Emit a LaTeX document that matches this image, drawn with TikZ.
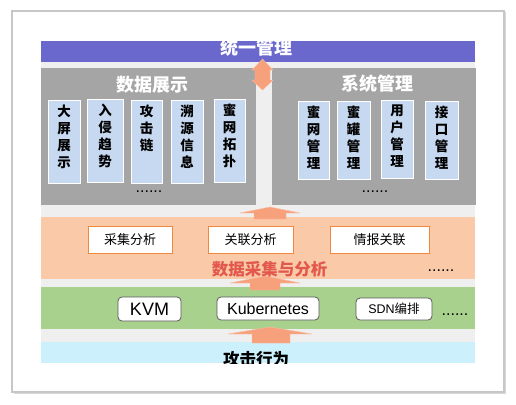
\documentclass[tikz,border=0pt]{standalone}
\usepackage{fontspec}
\setmainfont{Noto Sans CJK SC}
\newfontfamily\lat{Liberation Sans}
\usetikzlibrary{shadows}
\definecolor{purp}{RGB}{106,104,204}
\definecolor{grayb}{RGB}{165,165,165}
\definecolor{lblue}{RGB}{198,217,240}
\definecolor{peach}{RGB}{250,202,168}
\definecolor{grn}{RGB}{169,209,142}
\definecolor{skyb}{RGB}{205,241,252}
\definecolor{bgg}{RGB}{239,239,239}
\definecolor{redt}{RGB}{226,88,76}
\definecolor{obord}{RGB}{240,136,62}
\definecolor{arr}{RGB}{247,160,124}
\tikzset{
  layer/.style={draw=none},
  vbox/.style={fill=lblue, draw=white, line width=0.6pt},
  vtext/.style={anchor=north, align=center, font=\fontsize{13.5}{17}\selectfont\bfseries, inner sep=0pt},
  title/.style={text=white, font=\fontsize{18}{20}\selectfont\bfseries, inner sep=0pt},
  obox/.style={fill=white, draw=obord, line width=1pt, font=\fontsize{13}{15}\selectfont, inner sep=0pt},
  gbox/.style={fill=white, draw=black!65, line width=0.8pt, rounded corners=4pt, inner sep=0pt},
  dots/.style={font=\lat\fontsize{16}{16}\selectfont, inner sep=0pt},
  arrowshape/.style={fill=arr, draw=arr!70!white, line width=0.4pt}
}
\begin{document}
\begin{tikzpicture}[x=1pt,y=-1pt]
\useasboundingbox[fill=white] (0,0) rectangle (516,404);
% frame
\draw[fill=white, draw=black!22, line width=1.5pt, drop shadow={opacity=0.3, shadow xshift=1.5pt, shadow yshift=-1.5pt}] (12,11) rectangle (504,392);
% background
\fill[bgg] (41,41) rectangle (475,363);
% top title (white, partly above bar)
\fill[purp] (41,41) rectangle (475,62);
\begin{scope}
\clip (41,41) rectangle (475,62);
\node[title] (ttl) at (256,48) {统一管理};
\end{scope}
% gray boxes
\fill[grayb] (41,68) rectangle (256,205);
\fill[grayb] (272,68) rectangle (476,205);
\node[title] (t1) at (152.5,85) {数据展示};
\node[title] (t2) at (377,83.5) {系统管理};
% left boxes
\draw[vbox] (48,100) rectangle (80,183);
\draw[vbox] (87,99) rectangle (123,182);
\draw[vbox] (131,100) rectangle (162,183);
\draw[vbox] (171,100) rectangle (203,183);
\draw[vbox] (214,99) rectangle (245,182);
\node[vtext] (a1) at (64,105) {大\\屏\\展\\示};
\node[vtext] (a2) at (105,104) {入\\侵\\趋\\势};
\node[vtext] (a3) at (146.5,105) {攻\\击\\链};
\node[vtext] (a4) at (187,105) {溯\\源\\信\\息};
\node[vtext] (a5) at (229.5,104) {蜜\\网\\拓\\扑};
% right boxes
\draw[vbox] (298,101) rectangle (329,179);
\draw[vbox] (337,101) rectangle (370,179);
\draw[vbox] (381,100) rectangle (413,178);
\draw[vbox] (425,101) rectangle (458,179);
\node[vtext] (b1) at (313.5,106) {蜜\\网\\管\\理};
\node[vtext] (b2) at (353.5,106) {蜜\\罐\\管\\理};
\node[vtext] (b3) at (397,105) {用\\户\\管\\理};
\node[vtext] (b4) at (441.5,106) {接\\口\\管\\理};
\node[dots] (d1) at (149,192) {......};
\node[dots] (d2) at (375,192) {......};
% orange layer
\fill[peach] (41,217) rectangle (475,279);
\node[obox, minimum width=84pt, minimum height=27pt] (c1) at (130,239.5) {采集分析};
\node[obox, minimum width=85pt, minimum height=27pt] (c2) at (250.5,239.5) {关联分析};
\node[obox, minimum width=99pt, minimum height=27pt] (c3) at (379.5,239.5) {情报关联};
\node[dots] (d3) at (441,271) {......};
% green layer
\fill[grn] (41,287) rectangle (475,329);
\node[gbox, minimum width=63pt, minimum height=24pt, font=\lat\fontsize{18}{20}\selectfont] (k1) at (149.5,309) {KVM};
\node[gbox, minimum width=102pt, minimum height=23pt, font=\lat\fontsize{16}{18}\selectfont] (k2) at (268,308.5) {Kubernetes};
\node[gbox, minimum width=76pt, minimum height=22pt, font=\fontsize{12.5}{14}\selectfont] (k3) at (394,309) {{\lat SDN}编排};
\node[dots] (d4) at (455,315) {......};
% blue layer
\begin{scope}
\clip (41,342) rectangle (475,363);
\fill[skyb] (41,342) rectangle (475,363);
\node[font=\fontsize{16.5}{18}\selectfont\bfseries, inner sep=0pt] (atk) at (256,359) {攻击行为};
\end{scope}
% arrows
\draw[arrowshape] (262.5,59) -- (273,70) -- (270,70) -- (270,80) -- (273,80) -- (262.5,90) -- (252,80) -- (255,80) -- (255,70) -- (252,70) -- cycle;
\draw[arrowshape] (270,207) -- (300,213) -- (286,213) -- (286,219) -- (254,219) -- (254,213) -- (240,213) -- cycle;
\draw[arrowshape] (265,276) -- (300,283) -- (280,283) -- (280,290) -- (250,290) -- (250,283) -- (230,283) -- cycle;
\draw[arrowshape] (270,327) -- (312,334) -- (290,334) -- (290,343) -- (252,343) -- (252,334) -- (228,334) -- cycle;
\node[font=\fontsize{16.5}{18}\selectfont\bfseries, text=redt, inner sep=0pt] (ttlc) at (269.5,269) {数据采集与分析};
\end{tikzpicture}
\end{document}
